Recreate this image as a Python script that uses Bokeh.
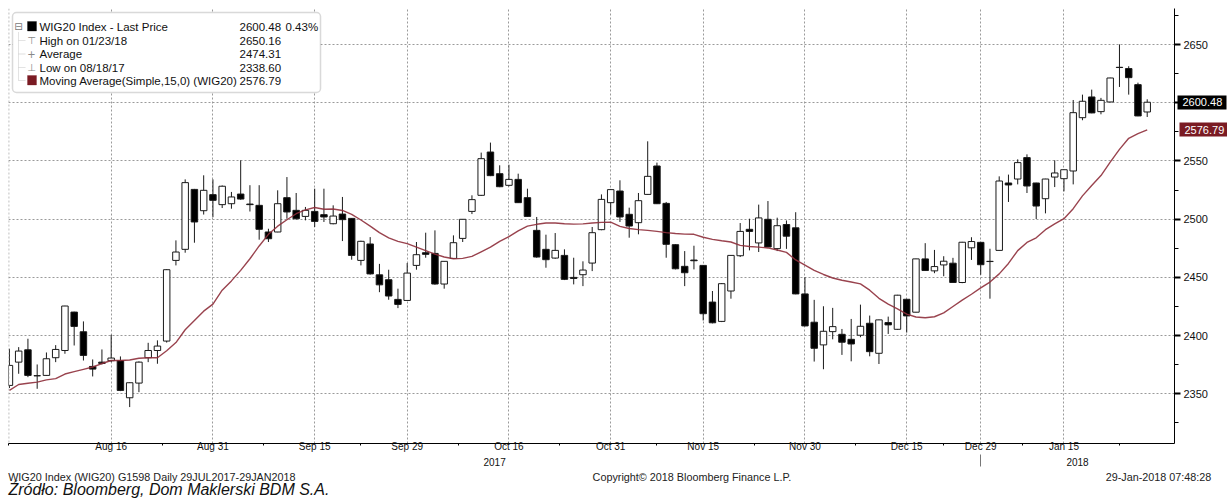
import pandas as pd
from bokeh.plotting import figure
from bokeh.models import (ColumnDataSource, FixedTicker, Label, BoxAnnotation, Span, Range1d,
                          LinearAxis)
from bokeh.embed import file_html
from bokeh.resources import INLINE

# ---------------- data ----------------
holidays = ["2017-08-15", "2017-11-01", "2017-12-25", "2017-12-26", "2017-12-29", "2018-01-01"]
dates = [d for d in pd.bdate_range("2017-07-31", "2018-01-26") if d.strftime("%Y-%m-%d") not in holidays]

opens = [
    2357.2, 2377.2, 2387.8, 2365.6, 2365.8, 2381.0, 2387.2, 2420.2, 2403.3, 2373.5,
    2377.2, 2378.4, 2378.6, 2346.6, 2359.2, 2381.0, 2387.2, 2395.3, 2464.6, 2474.1,
    2525.6, 2507.3, 2521.1, 2512.5, 2513.3, 2521.6, 2513.0, 2511.9, 2489.0, 2489.0,
    2518.5, 2507.6, 2502.4, 2506.7, 2503.9, 2496.1, 2504.4, 2500.7, 2464.6, 2478.7,
    2452.2, 2448.0, 2431.1, 2430.2, 2460.3, 2471.2, 2470.6, 2444.3, 2466.3, 2483.5,
    2506.7, 2520.5, 2557.7, 2539.1, 2529.1, 2534.2, 2518.5, 2490.4, 2474.1, 2466.6,
    2468.9, 2450.0, 2452.3, 2462.3, 2491.0, 2514.2, 2524.2, 2504.2, 2497.0, 2521.3,
    2545.7, 2513.6, 2478.1, 2459.5, 2464.9, 2460.3, 2428.8, 2412.2, 2438.3, 2468.6,
    2491.3, 2479.6, 2499.9, 2474.7, 2495.4, 2492.6, 2435.8, 2411.5, 2392.0, 2403.4,
    2401.1, 2396.8, 2400.3, 2410.6, 2384.8, 2411.2, 2405.4, 2431.2, 2420.1, 2465.9,
    2455.6, 2460.7, 2462.2, 2445.6, 2475.4, 2480.1, 2463.8, 2473.2, 2531.1, 2534.5,
    2552.9, 2531.1, 2517.6, 2536.2, 2534.8, 2541.4, 2587.2, 2605.0, 2592.4, 2600.7,
    2630.5, 2629.4, 2615.6, 2592.1]

highs = [
    2388.7, 2390.1, 2397.3, 2375.2, 2385.5, 2391.8, 2425.6, 2420.5, 2412.2, 2379.5,
    2388.1, 2400.7, 2382.1, 2359.8, 2377.8, 2393.8, 2395.9, 2457.0, 2481.8, 2534.2,
    2526.0, 2537.7, 2534.2, 2529.0, 2523.4, 2550.6, 2529.2, 2529.2, 2491.8, 2524.8,
    2536.2, 2522.5, 2510.5, 2526.2, 2526.2, 2511.9, 2519.1, 2501.0, 2481.5, 2484.6,
    2461.6, 2456.6, 2440.3, 2462.3, 2480.4, 2488.4, 2490.4, 2464.0, 2486.1, 2500.0,
    2520.5, 2557.2, 2565.8, 2546.3, 2546.8, 2539.1, 2526.2, 2501.9, 2486.7, 2488.1,
    2474.1, 2466.9, 2463.8, 2493.3, 2521.3, 2526.0, 2533.4, 2509.9, 2522.5, 2566.9,
    2548.6, 2514.8, 2478.5, 2472.6, 2477.2, 2460.5, 2438.3, 2445.1, 2469.0, 2496.7,
    2500.4, 2512.5, 2515.6, 2501.3, 2498.9, 2506.0, 2450.1, 2430.7, 2425.2, 2423.8,
    2405.7, 2414.3, 2426.6, 2417.2, 2413.7, 2416.3, 2435.0, 2431.5, 2466.0, 2479.4,
    2473.6, 2468.2, 2466.8, 2480.5, 2484.5, 2480.5, 2474.6, 2536.8, 2538.3, 2551.4,
    2555.7, 2531.3, 2534.7, 2550.6, 2542.7, 2602.4, 2607.0, 2611.3, 2604.2, 2621.5,
    2650.16, 2631.4, 2617.3, 2603.0]

lows = [
    2355.0, 2367.2, 2364.3, 2354.3, 2365.5, 2377.2, 2384.4, 2391.5, 2378.6, 2364.9,
    2375.2, 2377.2, 2352.3, 2338.6, 2351.4, 2377.2, 2375.8, 2394.0, 2460.3, 2471.2,
    2479.8, 2504.0, 2501.7, 2509.6, 2509.0, 2516.7, 2506.6, 2482.4, 2480.4, 2488.8,
    2500.4, 2499.6, 2499.0, 2493.3, 2497.6, 2495.6, 2481.2, 2465.2, 2460.3, 2452.4,
    2437.3, 2430.8, 2423.6, 2430.0, 2456.6, 2466.9, 2443.7, 2440.3, 2465.8, 2480.4,
    2504.4, 2520.0, 2537.0, 2527.5, 2528.2, 2514.0, 2502.0, 2466.9, 2458.3, 2466.0,
    2447.7, 2444.0, 2442.5, 2455.4, 2490.5, 2504.2, 2497.6, 2484.1, 2487.0, 2521.0,
    2513.0, 2466.9, 2456.9, 2442.5, 2456.9, 2413.0, 2410.5, 2411.6, 2431.7, 2467.5,
    2473.2, 2471.8, 2476.0, 2472.6, 2474.5, 2435.5, 2408.0, 2377.7, 2371.1, 2396.8,
    2383.4, 2377.9, 2398.6, 2382.2, 2375.6, 2401.4, 2405.0, 2402.6, 2420.0, 2455.8,
    2453.6, 2451.0, 2445.5, 2445.0, 2465.0, 2452.3, 2431.7, 2473.0, 2514.8, 2529.9,
    2522.5, 2500.1, 2505.0, 2527.6, 2523.9, 2529.9, 2585.0, 2591.0, 2590.1, 2600.5,
    2613.6, 2607.0, 2588.5, 2587.8]

closes = [
    2374.4, 2386.7, 2365.8, 2365.4, 2380.1, 2388.1, 2425.4, 2407.9, 2383.0, 2371.2,
    2376.1, 2380.7, 2352.9, 2359.5, 2377.2, 2387.2, 2391.0, 2456.6, 2471.8, 2531.4,
    2497.6, 2524.8, 2516.2, 2528.3, 2519.1, 2517.3, 2512.5, 2491.3, 2483.2, 2513.3,
    2506.2, 2500.4, 2507.6, 2498.1, 2501.9, 2502.7, 2499.6, 2468.9, 2481.0, 2453.0,
    2443.6, 2434.0, 2426.8, 2453.7, 2469.5, 2469.8, 2444.3, 2463.8, 2479.8, 2499.9,
    2516.8, 2552.0, 2537.4, 2527.9, 2534.2, 2514.2, 2502.4, 2467.5, 2465.2, 2473.2,
    2448.3, 2449.1, 2456.3, 2488.4, 2517.0, 2525.4, 2501.9, 2494.1, 2515.9, 2536.8,
    2513.3, 2478.4, 2457.4, 2454.0, 2464.3, 2418.8, 2411.0, 2444.6, 2468.9, 2489.5,
    2489.5, 2501.1, 2476.1, 2494.4, 2485.4, 2435.8, 2408.3, 2389.1, 2403.7, 2407.7,
    2394.3, 2392.8, 2408.0, 2386.2, 2413.5, 2409.2, 2434.7, 2416.9, 2465.9, 2455.9,
    2459.3, 2463.9, 2445.6, 2480.2, 2480.8, 2460.9, 2463.6, 2532.8, 2529.4, 2548.6,
    2528.5, 2511.3, 2534.5, 2539.7, 2542.5, 2591.5, 2601.3, 2591.3, 2602.1, 2621.3,
    2630.3, 2621.6, 2588.7, 2600.48]

ma15 = [
    2353, 2358, 2359, 2360, 2362, 2363, 2367, 2369, 2371, 2373,
    2376, 2378.6, 2378.6, 2379, 2380.5, 2381, 2381, 2387, 2394, 2405,
    2413, 2421, 2427, 2439, 2447, 2456, 2466, 2477, 2487, 2494,
    2499.5, 2504.7, 2508, 2510, 2508.5, 2508.7, 2507.5, 2504.2, 2499.3, 2494,
    2488.5, 2484, 2481, 2479, 2476, 2473, 2470, 2467.5, 2466, 2466.3,
    2468, 2472, 2476, 2481, 2485, 2490, 2494, 2495.6, 2496.7, 2496.7,
    2496.1, 2495.8, 2496, 2496.7, 2497.3, 2497.5, 2493.8, 2492, 2491, 2490.4,
    2489.5, 2488.5, 2487.7, 2487.2, 2487, 2484.5, 2482.7, 2481.5, 2480.4, 2477.5,
    2476.5, 2476, 2475.3, 2473.5, 2471.5, 2465, 2460.5, 2456, 2452.5, 2449.5,
    2447.5, 2446, 2444.4, 2439, 2432, 2427, 2423, 2418.5, 2416, 2415.3,
    2416.2, 2419.5, 2425, 2430.5, 2435.5, 2441, 2446, 2453, 2462, 2473,
    2480, 2484, 2491, 2496, 2500.4, 2509, 2520, 2529, 2537.5, 2549,
    2560, 2569.5, 2573.5, 2576.79]

tick_dates = ["2017-08-16", "2017-08-31", "2017-09-15", "2017-09-29", "2017-10-16", "2017-10-31",
              "2017-11-15", "2017-11-30", "2017-12-15", "2017-12-29", "2018-01-15"]
tick_labels = ["Aug 16", "Aug 31", "Sep 15", "Sep 29", "Oct 16", "Oct 31",
               "Nov 15", "Nov 30", "Dec 15", "Dec 29", "Jan 15"]
y_ticks = [2350, 2400, 2450, 2500, 2550, 2600, 2650]

legend_names = ["WIG20 Index - Last Price", "High on 01/23/18", "Average",
                "Low on 08/18/17", "Moving Average(Simple,15,0) (WIG20)"]
legend_values = ["2600.48", "2650.16", "2474.31", "2338.60", "2576.79"]
pct_change = "0.43%"
last_price = 2600.48
ma_last = 2576.79

footer_left = "WIG20 Index (WIG20) G1598  Daily 29JUL2017-29JAN2018"
footer_mid = "Copyright© 2018 Bloomberg Finance L.P."
footer_right = "29-Jan-2018 07:48:28"
source_note = "Źródło: Bloomberg, Dom Maklerski BDM S.A."

# ---------------- derived ----------------
n = len(dates)
idx = list(range(n))
ts = [d.strftime("%Y-%m-%d") for d in dates]
tick_idx = [next(i for i, t in enumerate(ts) if t >= td) for td in tick_dates]
minor_idx = [-0.08] + [(a + b) / 2 for a, b in zip(tick_idx[:-1], tick_idx[1:])] + [tick_idx[-1] + 6]
y_minor = [t + 25 for t in y_ticks[:-1]] + [y_ticks[0] - 25, y_ticks[-1] + 25]

src = ColumnDataSource(dict(
    x=idx, o=opens, h=highs, l=lows, c=closes,
    top=[max(a, b) for a, b in zip(opens, closes)],
    bot=[min(a, b) for a, b in zip(opens, closes)],
    fill=["white" if c > o else "black" for o, c in zip(opens, closes)],
))

FONT = "Liberation Sans"
X0, X1 = -0.1, 125.95
FL, FR, FT, FB = 8, 1175, 8, 443  # frame edges in page pixels
PX = (FR - FL) / (X1 - X0)


def sx(px):
    return px - FL


def sy(py):
    return FB - py


def page_to_idx(px):
    return X0 + (px - FL) / PX


p = figure(width=1227, height=502,
           x_range=Range1d(X0, X1), y_range=Range1d(2307.3, 2681.0),
           y_axis_location="right", output_backend="svg", toolbar_location=None,
           min_border_left=FL, min_border_top=FT, min_border_right=1227 - FR,
           min_border_bottom=502 - FB,
           background_fill_color="white", border_fill_color="white", outline_line_color=None)

# ---- x axis (dates)
p.xaxis.ticker = FixedTicker(ticks=tick_idx, minor_ticks=minor_idx)
p.xaxis.major_label_overrides = {i: lab for i, lab in zip(tick_idx, tick_labels)}
p.xaxis.axis_line_color = "black"
p.xaxis.major_tick_out = 0
p.xaxis.major_tick_in = 0
p.xaxis.minor_tick_out = 2
p.xaxis.minor_tick_in = 0
p.xaxis.minor_tick_line_color = "black"
p.xaxis.major_label_standoff = -5
p.xaxis.major_label_text_font = FONT
p.xaxis.major_label_text_font_size = "10px"
p.xaxis.major_label_text_color = "#111111"

# ---- year row
years = sorted(set(d.year for d in dates))
firsts = [next(i for i, d in enumerate(dates) if d.year == yv) for yv in years]
edges = [X0] + firsts[1:] + [X1]
year_pos = [round((a + b) / 2, 2) for a, b in zip(edges[:-1], edges[1:])]
year_axis = LinearAxis(ticker=FixedTicker(ticks=year_pos, minor_ticks=firsts[1:]),
                       major_label_overrides={yp: str(yv) for yp, yv in zip(year_pos, years)},
                       axis_line_color=None, major_tick_out=0, major_tick_in=0,
                       minor_tick_in=0, minor_tick_out=12, minor_tick_line_color="#777777",
                       major_label_standoff=-9, major_label_text_font=FONT,
                       major_label_text_font_size="10px", major_label_text_color="#111111")
p.add_layout(year_axis, "below")

# ---- footer rows (label-only axes)
w_left = 290  # approx rendered width of footer_left (px)
w_right = 106
foot_pos = [round(page_to_idx(8 + w_left / 2), 2), round(page_to_idx(692), 2),
            round(page_to_idx(1212 - w_right / 2), 2)]
foot_axis = LinearAxis(ticker=FixedTicker(ticks=foot_pos),
                       major_label_overrides=dict(zip(foot_pos, [footer_left, footer_mid, footer_right])),
                       axis_line_color=None, major_tick_out=0, major_tick_in=0,
                       major_label_standoff=2, major_label_text_font=FONT,
                       major_label_text_font_size="10.8px", major_label_text_color="#222222")
p.add_layout(foot_axis, "below")

w_src = 321
src_pos = [round(page_to_idx(8 + w_src / 2), 2)]
src_axis = LinearAxis(ticker=FixedTicker(ticks=src_pos),
                      major_label_overrides={src_pos[0]: source_note},
                      axis_line_color=None, major_tick_out=0, major_tick_in=0,
                      major_label_standoff=-5, major_label_text_font=FONT,
                      major_label_text_font_size="16px", major_label_text_font_style="italic",
                      major_label_text_color="#111111")
p.add_layout(src_axis, "below")

# ---- y axis (right)
p.yaxis.ticker = FixedTicker(ticks=y_ticks, minor_ticks=y_minor)
p.yaxis.axis_line_color = "black"
p.yaxis.major_tick_out = 6
p.yaxis.major_tick_in = 0
p.yaxis.major_tick_line_width = 2
p.yaxis.minor_tick_out = 4
p.yaxis.minor_tick_in = 0
p.yaxis.major_label_standoff = 3
p.yaxis.major_label_text_font = FONT
p.yaxis.major_label_text_font_size = "11px"
p.yaxis.major_label_text_color = "#111111"

# price tags: label-only axes whose thick tick marks form the tag boxes
AX2 = 1209  # page x of the first tag axis line
tag1 = LinearAxis(ticker=FixedTicker(ticks=[last_price]),
                  major_label_overrides={last_price: legend_values[0]},
                  axis_line_color=None, major_tick_in=AX2 - 1176, major_tick_out=1225 - AX2,
                  major_tick_line_width=14, major_tick_line_color="black",
                  major_label_standoff=1181 - 1225, major_label_text_font=FONT,
                  major_label_text_font_size="11px", major_label_text_color="white")
p.add_layout(tag1, "right")
AX3 = 1222
tag2 = LinearAxis(ticker=FixedTicker(ticks=[ma_last]),
                  major_label_overrides={ma_last: legend_values[4]},
                  axis_line_color=None, major_tick_in=AX3 - 1176, major_tick_out=1225 - AX3,
                  major_tick_line_width=14, major_tick_line_color="#7A1B23",
                  major_label_standoff=1181 - 1225, major_label_text_font=FONT,
                  major_label_text_font_size="11px", major_label_text_color="white")
p.add_layout(tag2, "right")

for g in (p.xgrid, p.ygrid):
    g.grid_line_color = "#9a9a9a"
    g.grid_line_dash = "2 2"
    g.grid_line_width = 1
p.add_layout(Span(location=X0 + 0.03, dimension="height", line_color="#9a9a9a", line_dash="2 2"))

# ---- candles
p.segment(x0="x", y0="l", x1="x", y1="h", source=src, line_color="#1a1a1a", line_width=1)
p.vbar(x="x", top="top", bottom="bot", width=0.7, source=src,
       fill_color="fill", line_color="#1a1a1a", line_width=1)

# ---- moving average
p.line(idx, ma15, line_color="#8E2F3B", line_width=1.4, line_alpha=0.9)

# ---- legend box
p.add_layout(BoxAnnotation(left=sx(12), right=sx(320), top=sy(12), bottom=sy(92),
                           left_units="screen", right_units="screen", top_units="screen",
                           bottom_units="screen", fill_color="white", fill_alpha=1,
                           line_color="#808080", line_width=1.5, border_radius=4))
rows_y = [26, 40, 53.5, 67, 80]
p.add_layout(BoxAnnotation(left=sx(18), right=sx(18), top=sy(30), bottom=sy(80),
                           left_units="screen", right_units="screen", top_units="screen",
                           bottom_units="screen", fill_alpha=0, line_color="#9a9a9a",
                           line_dash="1 1"))
for ry in rows_y[1:]:
    p.add_layout(BoxAnnotation(left=sx(18), right=sx(25), top=sy(ry), bottom=sy(ry),
                               left_units="screen", right_units="screen", top_units="screen",
                               bottom_units="screen", fill_alpha=0, line_color="#9a9a9a",
                               line_dash="1 1"))
p.add_layout(Label(x=sx(18), y=sy(rows_y[0]), x_units="screen", y_units="screen", text="⊟",
                   text_font="DejaVu Sans", text_font_size="10px", text_color="#777777",
                   text_align="center", text_baseline="middle",
                   background_fill_color="white"))
for ry, col in ((rows_y[0], "black"), (rows_y[4], "#7A1B23")):
    p.add_layout(BoxAnnotation(left=sx(27), right=sx(36), top=sy(ry - 5), bottom=sy(ry + 4.5),
                               left_units="screen", right_units="screen", top_units="screen",
                               bottom_units="screen", fill_color=col, fill_alpha=1,
                               line_color=col))
for ry, sym in zip(rows_y[1:4], ["⊤", "+", "⊥"]):
    p.add_layout(Label(x=sx(31), y=sy(ry), x_units="screen", y_units="screen", text=sym,
                       text_font="DejaVu Sans", text_font_size="10px", text_color="#888888",
                       text_align="center", text_baseline="middle"))
for ry, name, val in zip(rows_y, legend_names, legend_values):
    p.add_layout(Label(x=sx(39), y=sy(ry), x_units="screen", y_units="screen", text=name,
                       text_font=FONT, text_font_size="11.5px", text_color="#111111",
                       text_baseline="middle"))
    p.add_layout(Label(x=sx(239), y=sy(ry), x_units="screen", y_units="screen", text=val,
                       text_font=FONT, text_font_size="11.5px", text_color="#111111",
                       text_baseline="middle"))
p.add_layout(Label(x=sx(285), y=sy(rows_y[0]), x_units="screen", y_units="screen", text=pct_change,
                   text_font=FONT, text_font_size="11.5px", text_color="#111111",
                   text_baseline="middle"))

open("out.html", "w").write(file_html(p, INLINE))
